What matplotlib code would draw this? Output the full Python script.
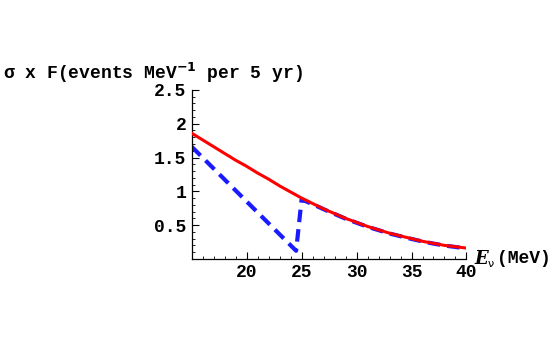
import matplotlib
matplotlib.use("Agg")
import matplotlib.pyplot as plt
from matplotlib.ticker import FixedLocator, MultipleLocator

# Data
e_red = [15, 16, 17, 18, 19, 20, 21, 22, 23, 24, 25, 26, 27, 28, 29, 30,
         31, 32, 33, 34, 35, 36, 37, 38, 39, 40]
f_red = [1.86, 1.76, 1.66, 1.56, 1.46, 1.37, 1.27, 1.18, 1.08, 0.99, 0.90,
         0.82, 0.74, 0.67, 0.60, 0.54, 0.48, 0.43, 0.38, 0.34, 0.30, 0.26,
         0.23, 0.20, 0.18, 0.16]
e_blue = [15, 24.5, 25, 26, 27, 28, 29, 30, 31, 32, 33, 34, 35, 36, 37, 38, 39, 40]
f_blue = [1.66, 0.12, 0.88, 0.81, 0.735, 0.665, 0.595, 0.535, 0.475, 0.425,
          0.375, 0.335, 0.295, 0.258, 0.226, 0.198, 0.176, 0.156]

xticks = [20, 25, 30, 35, 40]
xticklabels = ["20", "25", "30", "35", "40"]
yticks = [0.5, 1, 1.5, 2, 2.5]
yticklabels = ["0.5", "1", "1.5", "2", "2.5"]

mono = "Liberation Mono"
fs = 13

fig = plt.figure(figsize=(5.54, 3.42), dpi=100)
ax = fig.add_axes([0.346, 0.243, 0.496, 0.494])

ax.plot(e_blue, f_blue, color="#1a1aff", lw=3.0, dashes=(3.0, 1.7), zorder=2)
ax.plot(e_red, f_red, color="#ff0000", lw=2.2, zorder=3)

ax.set_xlim(15, 40)
ax.set_ylim(0, 2.5)
for s in ["top", "right"]:
    ax.spines[s].set_visible(False)
for s in ["left", "bottom"]:
    ax.spines[s].set_linewidth(0.9)

ax.xaxis.set_major_locator(FixedLocator(xticks))
ax.set_xticklabels(xticklabels)
ax.yaxis.set_major_locator(FixedLocator(yticks))
ax.set_yticklabels(yticklabels)
ax.xaxis.set_minor_locator(MultipleLocator(1))
ax.yaxis.set_minor_locator(MultipleLocator(0.1))
ax.tick_params(which="major", direction="in", length=5, width=0.8, pad=4)
ax.tick_params(which="minor", direction="in", length=2.5, width=0.6)
for lab in ax.get_xticklabels() + ax.get_yticklabels():
    lab.set_family(mono)
    lab.set_weight("bold")
    lab.set_fontsize(fs)

fig.text(0.005, 0.787, r"σ x F(events MeV$^{\mathbf{-1}}$ per 5 yr)",
         family=mono, weight="bold", fontsize=fs, ha="left", va="center")
fig.text(0.857, 0.243, "E", family="DejaVu Serif", weight="bold", style="italic",
         fontsize=fs, ha="left", va="center")
fig.text(0.880, 0.228, "ν", family="DejaVu Sans", fontsize=8, ha="left", va="center")
fig.text(0.898, 0.245, "(MeV)", family=mono, weight="bold", fontsize=fs,
         ha="left", va="center")

fig.savefig("out.png", dpi=100)
